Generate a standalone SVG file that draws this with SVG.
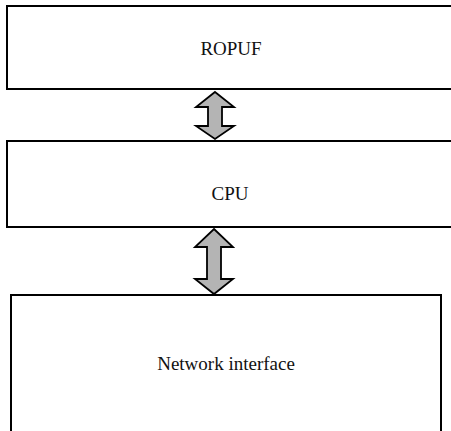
<svg xmlns="http://www.w3.org/2000/svg" width="451" height="431" viewBox="0 0 451 431">
<style>
.box{fill:#fff;stroke:#000;stroke-width:2}
.lbl{font-family:"Liberation Serif","Times New Roman",serif;font-size:19px;fill:#111;text-anchor:middle}
.arr{fill:#b4b4b4;stroke:#000;stroke-width:1.8;stroke-linejoin:miter}
</style>
<rect width="451" height="431" fill="#fff"/>
<g id="ropuf"><rect class="box" x="7" y="6" width="460" height="83"/><text class="lbl" x="231" y="55">ROPUF</text></g>
<g id="cpu"><rect class="box" x="7" y="141" width="460" height="86"/><text class="lbl" x="230" y="200">CPU</text></g>
<g id="network"><rect class="box" x="11" y="295" width="430" height="150"/><text class="lbl" x="226" y="370">Network interface</text></g>
<g id="connectors">
<polygon class="arr" points="215,92 234,107 222,107 222,126 234,126 215,139 196,126 208,126 208,107 196,107"/>
<polygon class="arr" points="214,229 233,247 221,247 221,279 233,279 214,294 195,279 207,279 207,247 195,247"/>
</g>
</svg>
